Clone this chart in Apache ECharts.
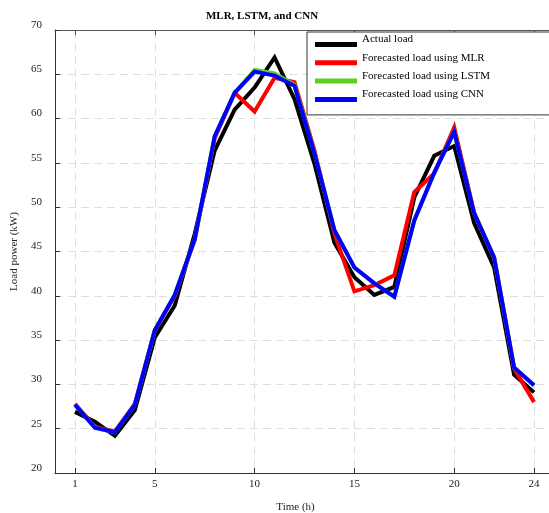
<!DOCTYPE html>
<html>
<head>
<meta charset="utf-8">
<script src="https://cdn.jsdelivr.net/npm/echarts@6/dist/echarts.min.js"></script>
<style>
html,body{margin:0;padding:0;background:#fff;}
#chart{width:549px;height:513px;}
</style>
</head>
<body>
<div id="chart"></div>
<script>
var hours = [1,2,3,4,5,6,7,8,9,10,11,12,13,14,15,16,17,18,19,20,21,22,23,24];
var actualLoad = [26.9,25.8,24.2,27.1,35.3,38.9,47.0,56.4,61.0,63.5,66.9,62.2,54.9,46.0,42.1,40.1,41.0,51.1,55.8,56.9,48.2,43.2,31.1,29.1];
var mlrLoad    = [27.8,25.2,24.7,27.8,36.1,40.0,46.3,57.8,62.9,60.8,64.6,64.1,56.4,47.0,40.5,41.2,42.3,51.7,53.8,59.0,49.4,44.3,31.8,28.0];
var lstmLoad   = [27.7,25.1,24.6,27.7,36.1,40.1,46.4,58.0,62.9,65.5,65.1,63.8,56.1,47.4,43.2,41.4,39.9,48.5,53.9,58.5,49.3,44.3,31.9,29.9];
var cnnLoad    = [27.7,25.1,24.6,27.7,36.1,40.1,46.4,58.0,62.9,65.3,64.85,63.7,56.05,47.4,43.2,41.4,39.9,48.5,53.9,58.5,49.3,44.3,31.9,29.9];
var xTickValues = [1,5,10,15,20,24];
var seriesNames = ['Actual load','Forecasted load using MLR','Forecasted load using LSTM','Forecasted load using CNN'];
var seriesColors = ['#000000','#ff0000','#5fcf1f','#0000ff'];

function pairs(arr){ return hours.map(function(h,i){ return [h, arr[i]]; }); }
var FONT = 'Liberation Serif';
var legendIcon = 'path://M0,0M0,10L42,10L42,15L0,15Z';

var chart = echarts.init(document.getElementById('chart'), null, {renderer:'canvas'});
var dataSets = [actualLoad, mlrLoad, lstmLoad, cnnLoad];
var series = dataSets.map(function(d, i){
  return {
    name: seriesNames[i], type: 'line', data: pairs(d),
    xAxisIndex: 0, yAxisIndex: 0,
    showSymbol: false, symbol: 'none',
    lineStyle: {width: 4, color: seriesColors[i], join: 'miter'},
    itemStyle: {color: seriesColors[i]},
    z: 2 + i, animation: false
  };
});

chart.setOption({
  animation: false,
  backgroundColor: '#ffffff',
  title: {
    text: 'MLR, LSTM, and CNN',
    left: 257, top: 6, textAlign: 'center',
    textStyle: {fontFamily: FONT, fontWeight: 'bold', fontSize: 11, color: '#000'}
  },
  legend: {
    data: seriesNames.map(function(n,i){ return {name:n, icon:legendIcon, itemStyle:{color:seriesColors[i]}}; }),
    orient: 'vertical',
    left: 307, top: 32,
    itemWidth: 42, itemHeight: 15,
    itemGap: 3.3,
    padding: [0, 100, 13, 8],
    backgroundColor: '#ffffff',
    borderColor: '#333333', borderWidth: 1,
    selectedMode: false,
    textStyle: {fontFamily: FONT, fontSize: 11, color: '#000'}
  },
  grid: {left: 55, right: -5, top: 30, bottom: 40, containLabel: false, outerBoundsMode: 'none'},
  xAxis: [{
    type: 'value', min: 0, max: 25, position: 'bottom',
    name: 'Time (h)', nameLocation: 'middle', nameGap: 29,
    nameTextStyle: {fontFamily: FONT, fontSize: 11, color: '#222', padding:[0,18,0,0]},
    axisLine: {show: true, onZero: false, lineStyle: {color: '#333', width: 1}},
    axisTick: {show: true, inside: true, length: 5, customValues: xTickValues, lineStyle: {color: '#333'}},
    axisLabel: {show: true, customValues: xTickValues, margin: 6, fontFamily: FONT, fontSize: 11, color: '#222'},
    splitLine: {show: true, lineStyle: {color: '#dedede', type: [8,5], width: 1}}
  },{
    type: 'value', min: 0, max: 25, position: 'top',
    axisLine: {show: true, onZero: false, lineStyle: {color: '#555', width: 1}},
    axisTick: {show: true, inside: true, length: 5, customValues: xTickValues, lineStyle: {color: '#555'}},
    axisLabel: {show: false},
    splitLine: {show: false}
  }],
  yAxis: [{
    type: 'value', min: 20, max: 70, interval: 5, position: 'left',
    name: 'Load power (kW)', nameLocation: 'middle', nameGap: 34, nameRotate: 90,
    nameTextStyle: {fontFamily: FONT, fontSize: 11, color: '#222'},
    axisLine: {show: true, onZero: false, lineStyle: {color: '#333', width: 1}},
    axisTick: {show: true, inside: true, length: 5, lineStyle: {color: '#333'}},
    axisLabel: {show: true, margin: 13, fontFamily: FONT, fontSize: 11, color: '#222', verticalAlign: 'bottom', lineHeight: 10},
    splitLine: {show: true, lineStyle: {color: '#dedede', type: [8,5], width: 1}}
  },{
    type: 'value', min: 20, max: 70, interval: 5, position: 'right',
    axisLine: {show: true, onZero: false, lineStyle: {color: '#555', width: 1}},
    axisTick: {show: true, inside: true, length: 5, lineStyle: {color: '#555'}},
    axisLabel: {show: false},
    splitLine: {show: false}
  }],
  series: series
});
</script>
</body>
</html>
